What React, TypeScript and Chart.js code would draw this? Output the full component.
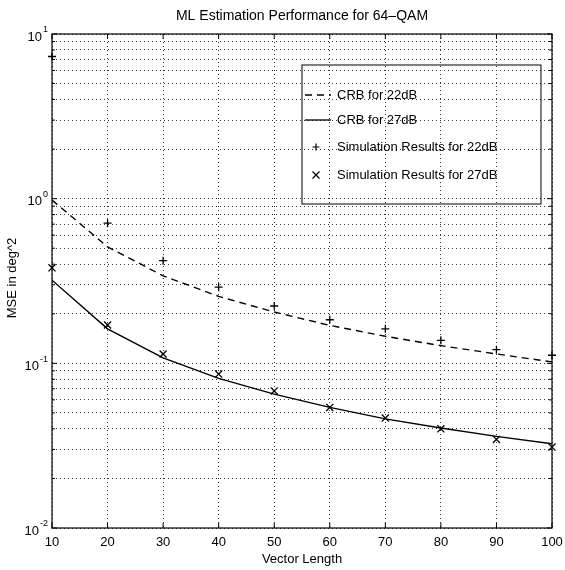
import React, { useEffect, useRef } from "react";
import { Chart, registerables } from "chart.js";
Chart.register(...registerables);

// ---- data ----
const vectorLengths = [10, 20, 30, 40, 50, 60, 70, 80, 90, 100];
const crb22 = [0.98, 0.51, 0.34, 0.255, 0.205, 0.17, 0.146, 0.128, 0.114, 0.102];
const crb27 = [0.32, 0.162, 0.108, 0.081, 0.065, 0.054, 0.046, 0.0405, 0.036, 0.0325];
const sim22 = [7.3, 0.71, 0.42, 0.29, 0.223, 0.184, 0.162, 0.138, 0.121, 0.112];
const sim27 = [0.38, 0.171, 0.114, 0.086, 0.068, 0.054, 0.0465, 0.04, 0.0345, 0.031];
const seriesLabels = [
  "CRB for 22dB",
  "CRB for 27dB",
  "Simulation Results for 22dB",
  "Simulation Results for 27dB",
];
const yDecades = [0.01, 0.1, 1, 10];
const yDecadeExponents = ["-2", "-1", "0", "1"];
const titleText = "ML Estimation Performance for 64\u2013QAM";
const xTitleText = "Vector Length";
const yTitleText = "MSE in deg^2";

const FONT = "'Liberation Sans', Arial, Helvetica, sans-serif";

export default function App() {
  const ref = useRef<HTMLCanvasElement | null>(null);

  useEffect(() => {
    document.body.style.margin = "0";
    const canvas = ref.current!;
    const pts = (ys: number[]) => vectorLengths.map((x, i) => ({ x, y: ys[i] }));

    const minorTicks: number[] = [];
    yDecades.forEach((d, i) => {
      minorTicks.push(d);
      if (i < yDecades.length - 1) for (let k = 2; k <= 9; k++) minorTicks.push(d * k);
    });

    const frame = {
      id: "matlabFrame",
      afterDraw(chart: any) {
        const { ctx, chartArea } = chart;
        const { left, right, top, bottom } = chartArea;
        const xs = chart.scales.x;
        const ys = chart.scales.y;
        ctx.save();
        ctx.strokeStyle = "#000";
        ctx.fillStyle = "#000";
        ctx.lineWidth = 1.2;
        ctx.setLineDash([]);
        ctx.strokeRect(left, top, right - left, bottom - top);
        ctx.lineWidth = 1;
        vectorLengths.forEach((v) => {
          const px = xs.getPixelForValue(v);
          ctx.beginPath();
          ctx.moveTo(px, bottom);
          ctx.lineTo(px, bottom - 5);
          ctx.moveTo(px, top);
          ctx.lineTo(px, top + 5);
          ctx.stroke();
        });
        minorTicks.forEach((v) => {
          const py = ys.getPixelForValue(v);
          const major = yDecades.indexOf(v) >= 0;
          const len = major ? 5 : 3;
          ctx.beginPath();
          ctx.moveTo(left, py);
          ctx.lineTo(left + len, py);
          ctx.moveTo(right, py);
          ctx.lineTo(right - len, py);
          ctx.stroke();
        });
        yDecades.forEach((v, i) => {
          const py = ys.getPixelForValue(v);
          ctx.font = `9px ${FONT}`;
          const ew = ctx.measureText(yDecadeExponents[i]).width;
          ctx.textAlign = "left";
          ctx.textBaseline = "middle";
          ctx.fillText(yDecadeExponents[i], left - 4 - ew, py - 4);
          ctx.font = `13px ${FONT}`;
          ctx.textAlign = "right";
          ctx.fillText("10", left - 5 - ew, py + 3);
        });
        const cx = (left + right) / 2;
        ctx.font = `14px ${FONT}`;
        ctx.textAlign = "center";
        ctx.textBaseline = "middle";
        ctx.fillText(titleText, cx, 16);
        ctx.font = `13px ${FONT}`;
        ctx.fillText(xTitleText, cx, 559);
        ctx.save();
        ctx.translate(12, (top + bottom) / 2 - 3);
        ctx.rotate(-Math.PI / 2);
        ctx.fillText(yTitleText, 0, 0);
        ctx.restore();
        // legend
        const lx0 = right - 250;
        const ly0 = top + 31;
        const lw = 239;
        const lh = 139;
        ctx.lineWidth = 1;
        ctx.strokeRect(lx0, ly0, lw, lh);
        const rowYs = [ly0 + 30, ly0 + 55, ly0 + 82, ly0 + 110];
        ctx.font = `13px ${FONT}`;
        ctx.textAlign = "left";
        ctx.textBaseline = "middle";
        rowYs.forEach((ry, i) => {
          const ds = chart.data.datasets[i];
          ctx.strokeStyle = "#000";
          if (i < 2) {
            ctx.lineWidth = 1.3;
            ctx.setLineDash(i === 0 ? [7, 5] : []);
            ctx.beginPath();
            ctx.moveTo(lx0 + 3, ry);
            ctx.lineTo(lx0 + 29, ry);
            ctx.stroke();
            ctx.setLineDash([]);
          } else {
            const mx = lx0 + 14;
            ctx.lineWidth = 1.2;
            ctx.beginPath();
            if (i === 2) {
              ctx.moveTo(mx - 3.5, ry);
              ctx.lineTo(mx + 3.5, ry);
              ctx.moveTo(mx, ry - 3.5);
              ctx.lineTo(mx, ry + 3.5);
            } else {
              ctx.moveTo(mx - 3.5, ry - 3.5);
              ctx.lineTo(mx + 3.5, ry + 3.5);
              ctx.moveTo(mx - 3.5, ry + 3.5);
              ctx.lineTo(mx + 3.5, ry - 3.5);
            }
            ctx.stroke();
          }
          ctx.fillText(ds.label, lx0 + 35, ry);
        });
        ctx.restore();
      },
    };

    const chart = new Chart(canvas, {
      type: "line",
      data: {
        datasets: [
          {
            label: seriesLabels[0],
            data: pts(crb22),
            borderColor: "#000",
            borderWidth: 1.4,
            borderDash: [7, 5],
            pointRadius: 0,
            fill: false,
            tension: 0,
          },
          {
            label: seriesLabels[1],
            data: pts(crb27),
            borderColor: "#000",
            borderWidth: 1.4,
            pointRadius: 0,
            fill: false,
            tension: 0,
          },
          {
            label: seriesLabels[2],
            data: pts(sim22),
            showLine: false,
            clip: false,
            pointStyle: "cross",
            pointRadius: 4,
            pointBorderWidth: 1.3,
            borderColor: "#000",
            backgroundColor: "#000",
          },
          {
            label: seriesLabels[3],
            data: pts(sim27),
            showLine: false,
            clip: false,
            pointStyle: "crossRot",
            pointRadius: 5,
            pointBorderWidth: 1.3,
            borderColor: "#000",
            backgroundColor: "#000",
          },
        ],
      },
      options: {
        animation: false,
        responsive: false,
        devicePixelRatio: 1,
        layout: { padding: { top: 34, right: 13, left: 0, bottom: 0 } },
        plugins: {
          legend: { display: false },
          title: { display: false },
          tooltip: { enabled: false },
        },
        scales: {
          x: {
            type: "linear",
            min: 10,
            max: 100,
            ticks: { stepSize: 10, color: "#000", font: { family: FONT, size: 13 }, padding: 7, autoSkip: false, maxRotation: 0 },
            grid: { color: "#333", lineWidth: 1, drawTicks: false },
            border: { display: false, dash: [1, 3] },
            afterFit: (s: any) => {
              s.height = 42;
              s.paddingLeft = 0;
              s.paddingRight = 0;
            },
          },
          y: {
            type: "logarithmic",
            min: 0.01,
            max: 10,
            afterBuildTicks: (s: any) => { s.ticks = minorTicks.map((v) => ({ value: v })); },
            ticks: { display: false, autoSkip: false },
            grid: { color: "#333", lineWidth: 1, drawTicks: false },
            border: { display: false, dash: [1, 3] },
            afterFit: (s: any) => {
              s.width = 52;
              s.paddingTop = 0;
              s.paddingBottom = 0;
            },
          },
        },
      },
      plugins: [frame],
    } as any);
    return () => chart.destroy();
  }, []);

  return (
    <div style={{ width: 565, height: 570, background: "#fff" }}>
      <canvas ref={ref} width={565} height={570} />
    </div>
  );
}
